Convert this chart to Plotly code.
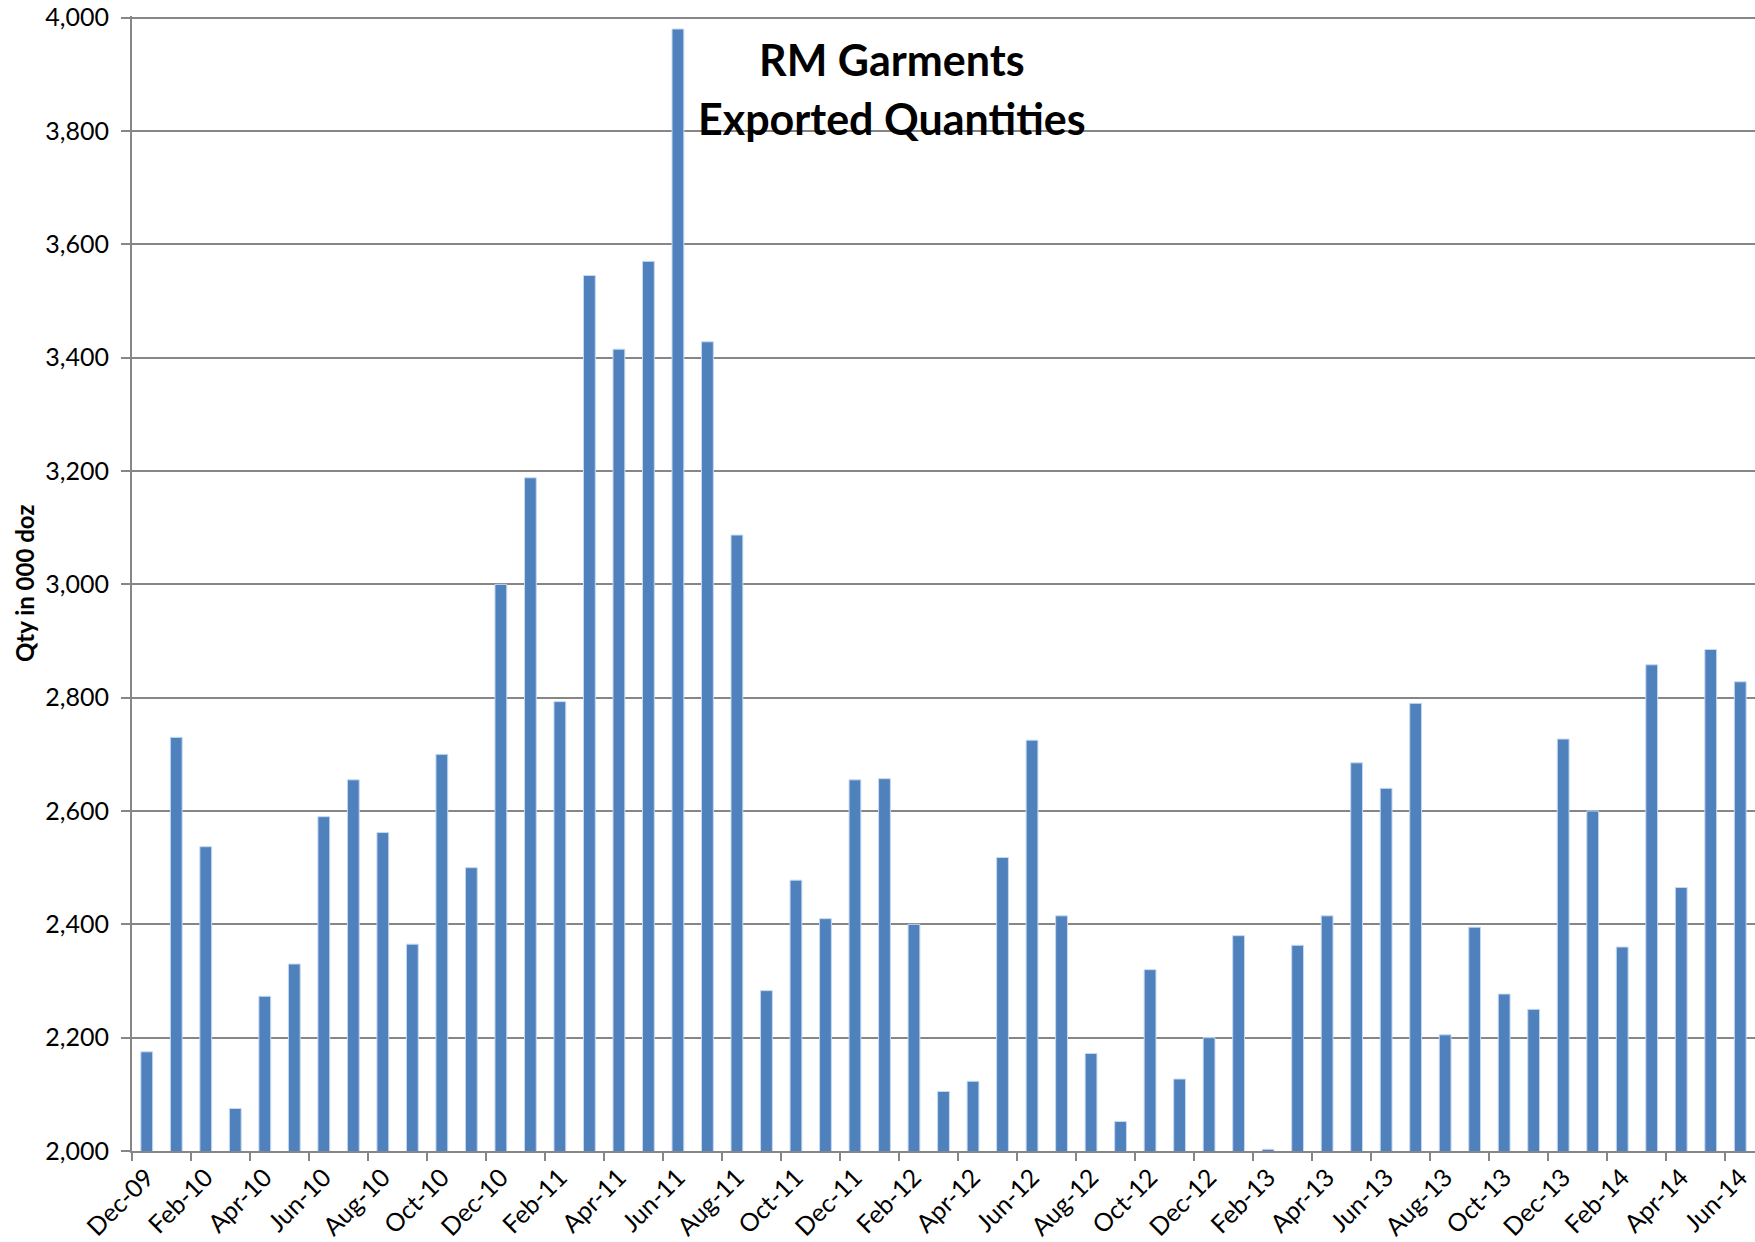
import plotly.graph_objects as go

# monthly exported quantities, '000 dozen
months = [
    "Dec-09", "Jan-10", "Feb-10", "Mar-10", "Apr-10", "May-10", "Jun-10", "Jul-10",
    "Aug-10", "Sep-10", "Oct-10", "Nov-10", "Dec-10", "Jan-11", "Feb-11", "Mar-11",
    "Apr-11", "May-11", "Jun-11", "Jul-11", "Aug-11", "Sep-11", "Oct-11", "Nov-11",
    "Dec-11", "Jan-12", "Feb-12", "Mar-12", "Apr-12", "May-12", "Jun-12", "Jul-12",
    "Aug-12", "Sep-12", "Oct-12", "Nov-12", "Dec-12", "Jan-13", "Feb-13", "Mar-13",
    "Apr-13", "May-13", "Jun-13", "Jul-13", "Aug-13", "Sep-13", "Oct-13", "Nov-13",
    "Dec-13", "Jan-14", "Feb-14", "Mar-14", "Apr-14", "May-14", "Jun-14",
]
qty = [
    2175, 2730, 2537, 2075, 2273, 2330, 2590, 2655,
    2562, 2365, 2700, 2500, 3000, 3188, 2793, 3545,
    3415, 3570, 3980, 3428, 3087, 2283, 2478, 2410,
    2655, 2657, 2400, 2105, 2123, 2518, 2725, 2415,
    2172, 2052, 2320, 2127, 2200, 2380, 2003, 2363,
    2415, 2685, 2640, 2790, 2205, 2395, 2277, 2250,
    2727, 2600, 2360, 2858, 2465, 2885, 2828,
]

FONT = "Lato"
GRID = "#868686"

idx = list(range(len(months)))

fig = go.Figure()
fig.add_trace(go.Bar(
    x=idx, y=qty,
    marker=dict(color="#4F81BD", line=dict(color="#C6D9F1", width=1)),
))

fig.update_layout(
    template="none",
    width=1755, height=1242,
    margin=dict(l=132, r=0, t=16, b=91),
    paper_bgcolor="white", plot_bgcolor="white",
    bargap=0.6,
    showlegend=False,
    font=dict(family=FONT, color="black", size=25),
)

fig.update_xaxes(
    range=[-0.5, len(months) - 0.5],
    tickmode="array", tickvals=idx[::2], ticktext=months[::2],
    tickangle=-45, ticks="", showgrid=False,
    showline=True, linecolor=GRID, linewidth=2,
    minor=dict(ticks="outside", tick0=-0.5, dtick=2, ticklen=8, tickcolor=GRID, tickwidth=2, showgrid=False),
    tickfont=dict(family=FONT, size=25),
    automargin=False, zeroline=False,
)
fig.update_yaxes(
    range=[2000, 4003], dtick=200, tickformat=",",
    showgrid=True, gridcolor=GRID, gridwidth=1.5,
    showline=True, linecolor=GRID, linewidth=2,
    ticks="outside", ticklen=9, tickcolor=GRID, tickwidth=1.5,
    ticklabelstandoff=7, ticklabeloverflow="allow",
    tickfont=dict(family=FONT, size=25),
    automargin=False, zeroline=False,
)

# chart title sits inside the plot area
fig.add_annotation(text="<b>RM Garments</b>", x=0.4683, y=0.962, xref="paper", yref="paper",
                   xanchor="center", yanchor="middle", showarrow=False,
                   font=dict(family=FONT, size=43, color="black"))
fig.add_annotation(text="<b>Exported Quantities</b>", x=0.4683, y=0.910, xref="paper", yref="paper",
                   xanchor="center", yanchor="middle", showarrow=False,
                   font=dict(family=FONT, size=43, color="black"))
# y axis title
fig.add_annotation(text="<b>Qty in 000 doz</b>", x=-0.0662, y=0.5, xref="paper", yref="paper",
                   xanchor="center", yanchor="middle", textangle=-90, showarrow=False,
                   font=dict(family=FONT, size=24, color="black"))

# drop the default 8px body margin so the figure fills the window
fig.write_html("out.html", config={"displayModeBar": False},
               post_script="document.body.style.margin='0';")
